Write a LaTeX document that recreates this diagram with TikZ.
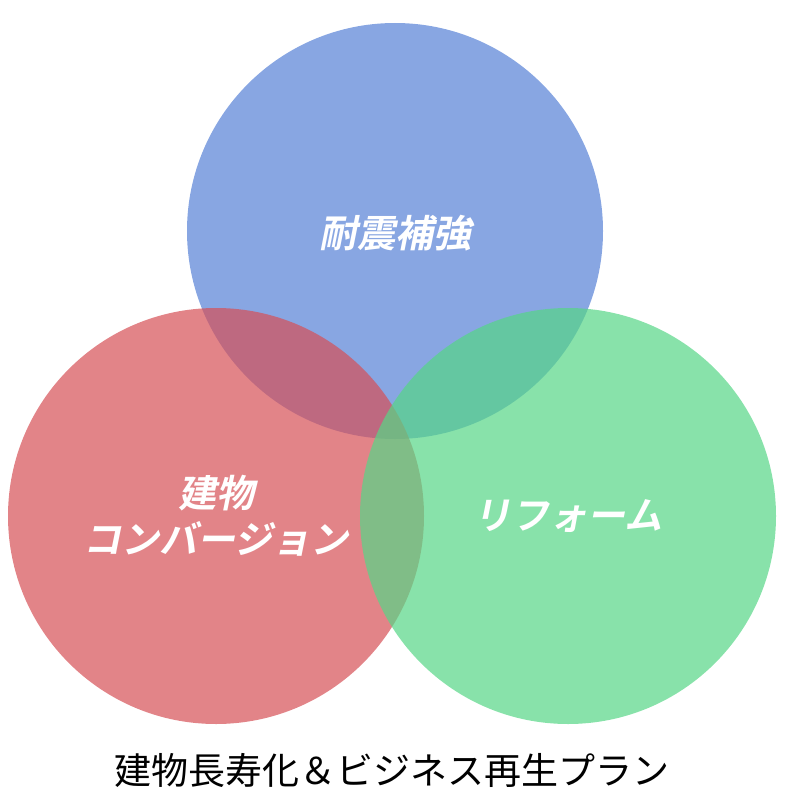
\documentclass[tikz,border=0pt]{standalone}
\usepackage{fontspec}
\newfontfamily\jpfont{Noto Sans CJK JP}
\newfontfamily\jpbold[FakeSlant=0.2]{Noto Sans CJK JP Bold}
\definecolor{myblue}{RGB}{85,128,214}
\definecolor{myred}{RGB}{214,80,86}
\definecolor{mygreen}{RGB}{86,214,134}
\newcommand{\varR}{208}

\begin{document}
\begin{tikzpicture}[x=1pt,y=-1pt]
	\tikzset{setlabel/.style={text=white,font=\jpbold\fontsize{38}{46}\selectfont,align=center}}

	% frame
	\useasboundingbox (0,0) rectangle (784,808);

	% circles
	\fill [myblue, fill opacity=0.7] (395,231) circle (\varR);
	\fill [myred, fill opacity=0.7] (216,516) circle (\varR);
	\fill [mygreen, fill opacity=0.7] (568,516) circle (\varR);

	% labels
	\node [setlabel] (quake) at (395,233) {耐震補強};
	\node [setlabel] (conv) at (216,516) {建物\\コンバージョン};
	\node [setlabel] (reform) at (568,516) {リフォーム};

	% caption
	\node [font=\jpfont\fontsize{37}{44}\selectfont] (title) at (392,770) {建物長寿化＆ビジネス再生プラン};

\end{tikzpicture}
\end{document}
